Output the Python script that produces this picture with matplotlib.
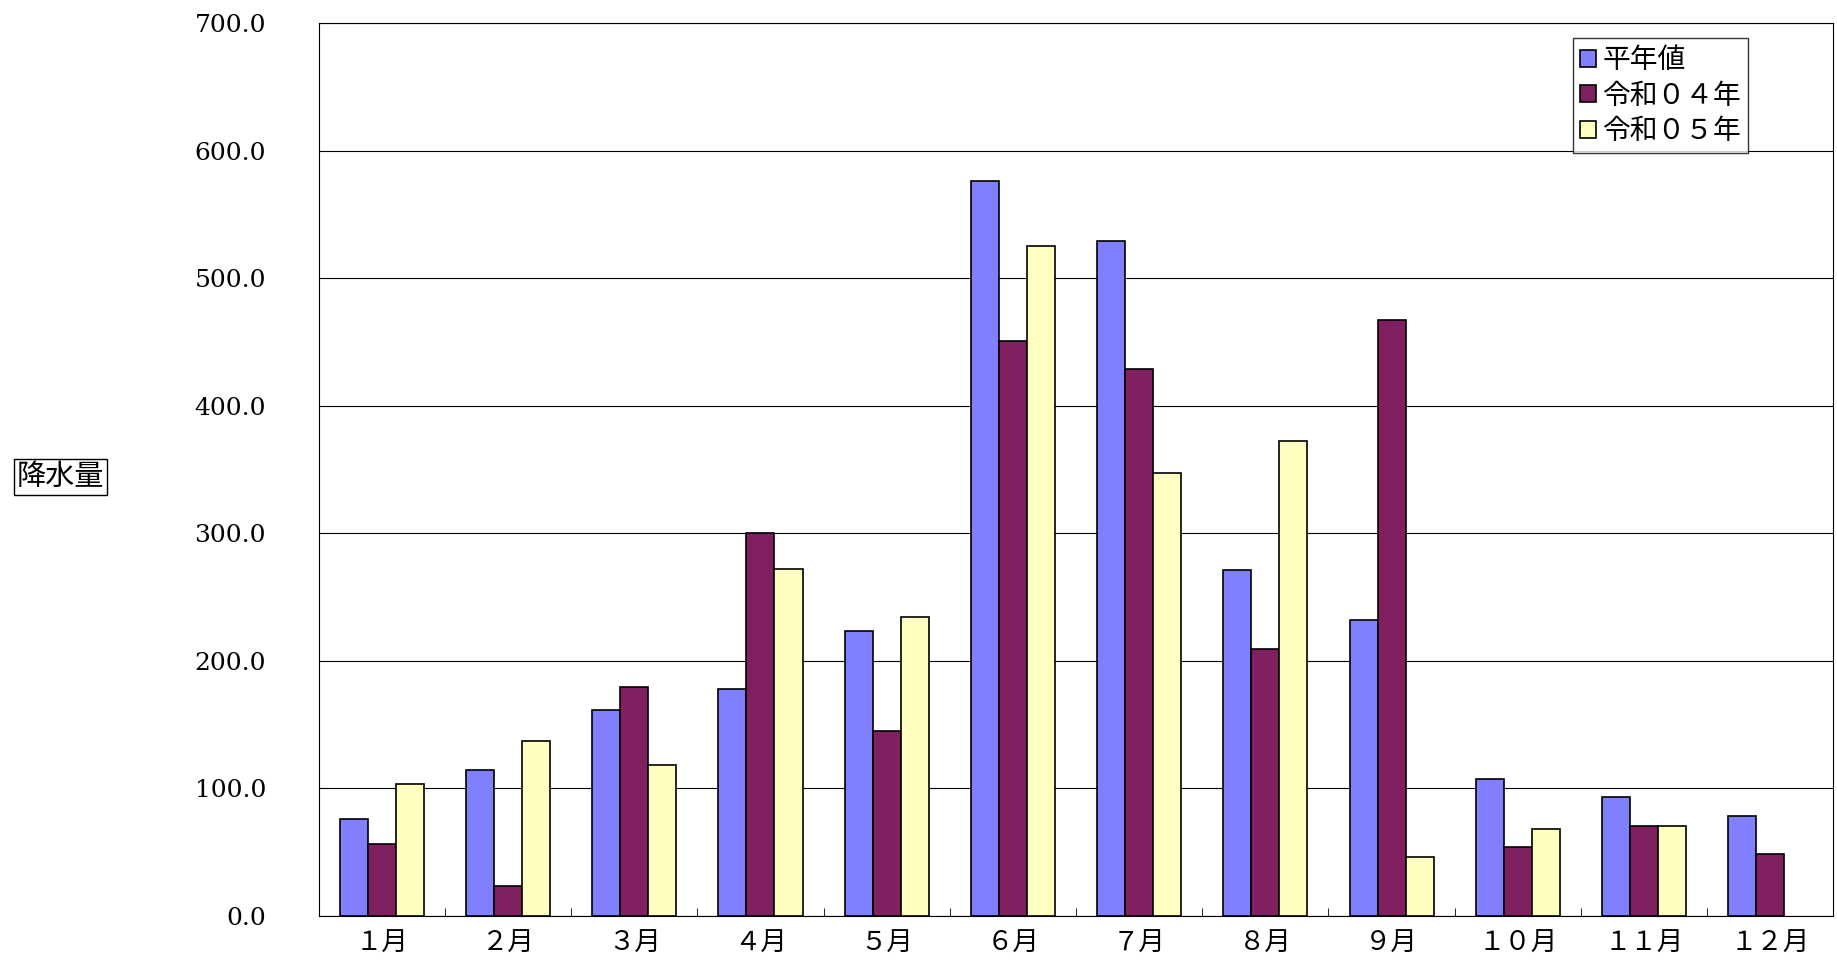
import matplotlib
matplotlib.use("Agg")
import matplotlib.pyplot as plt
import numpy as np

plt.rcParams['font.family'] = ['Noto Sans CJK JP', 'DejaVu Sans']

months = ['１月','２月','３月','４月','５月','６月','７月','８月','９月','１０月','１１月','１２月']
normal = [75.4, 114, 161, 178, 223, 576, 529, 271, 232, 107, 93, 78]
r04 = [56, 23, 179, 300, 145, 451, 429, 209, 467, 54, 70, 48]
r05 = [103, 137, 118, 272, 234, 525, 347, 372, 46, 68, 70, np.nan]
series = [('平年値', normal, '#8080FF'), ('令和０４年', r04, '#802060'), ('令和０５年', r05, '#FFFFC0')]

fig = plt.figure(figsize=(18.37, 9.74), dpi=100)
ax = fig.add_axes([0.1735, 0.06, 0.8245, 0.916])
x = np.arange(len(months))
w = 0.222
for i, (name, vals, c) in enumerate(series):
    ax.bar(x + (i - 1) * w, vals, w, color=c, edgecolor='black', linewidth=1.2, label=name)

ax.set_xlim(-0.5, 11.5)
ax.set_ylim(0, 700)
ax.set_yticks(np.arange(0, 701, 100))
ax.set_yticklabels([f'{v:.1f}' for v in np.arange(0, 701, 100)], family='DejaVu Serif', fontsize=18)
ax.set_xticks(x)
ax.set_xticklabels(months, fontsize=19)
ax.set_xticks(np.arange(-0.5, 12, 1), minor=True)
ax.tick_params(axis='x', which='major', length=0, pad=10)
ax.tick_params(axis='x', which='minor', length=6, direction='in')
ax.tick_params(axis='y', length=0, pad=38)
ax.yaxis.grid(True, color='black', linewidth=0.8)
ax.set_axisbelow(True)
for s in ax.spines.values():
    s.set_color('black')

leg = ax.legend(loc='upper right', bbox_to_anchor=(0.953, 0.999), fontsize=20, frameon=True,
                fancybox=False, edgecolor='black', handlelength=0.55, handleheight=0.55,
                handletextpad=0.25, borderpad=0.25, labelspacing=0.2)
leg.get_frame().set_linewidth(1.0)

fig.text(0.033, 0.51, '降水量', fontsize=21, ha='center', va='center',
         bbox=dict(boxstyle='square,pad=0.1', facecolor='white', edgecolor='black'))

fig.savefig('out.png', dpi=100)
